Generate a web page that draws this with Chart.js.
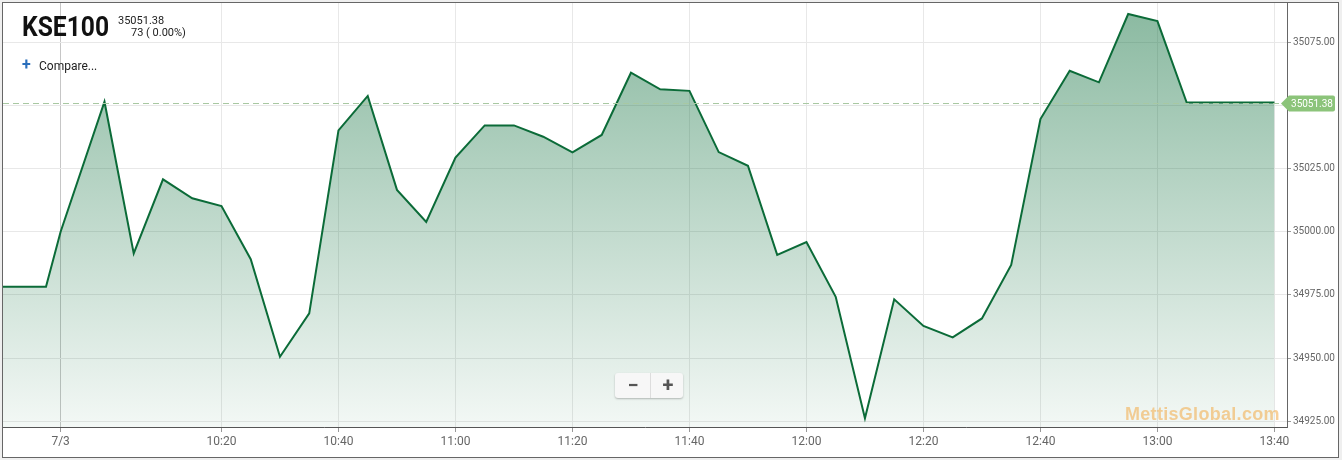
<!DOCTYPE html>
<html><head><meta charset="utf-8">
<script src="https://cdn.jsdelivr.net/npm/chart.js@4/dist/chart.umd.min.js"></script>
<style>
html,body{margin:0;padding:0;background:#efefef;}
#wrap{position:relative;width:1342px;height:460px;overflow:hidden;}
#c{position:absolute;left:0;top:0;}
.t{position:absolute;font-family:Roboto,sans-serif;white-space:nowrap;}
#title{left:22px;top:13px;font-size:28px;line-height:28px;font-weight:bold;color:#111;transform:scaleX(0.88);transform-origin:0 0;}
#price{left:118px;top:15px;font-size:11px;line-height:11px;color:#222;}
#chg{left:131px;top:27px;font-size:11px;line-height:11px;color:#222;}
#plus{left:22px;top:57px;font-size:16px;line-height:16px;font-weight:bold;color:#2a6ebb;}
#cmp{left:39px;top:60px;font-size:12px;line-height:12px;color:#222;}
#zoom{position:absolute;left:615px;top:373px;width:68px;height:25px;background:#f7f7f7;border-radius:3px;box-shadow:0 1px 2px rgba(0,0,0,0.25);}
#zoom span{position:absolute;top:0;width:34px;height:25px;line-height:24px;text-align:center;font-family:Roboto,sans-serif;font-weight:bold;font-size:20px;color:#555;}
#zm{left:1px;}#zp{left:35px;border-left:1px solid #ddd;}
#wm{left:1125px;top:405px;font-family:'Liberation Sans',Arial,sans-serif;font-size:18px;line-height:18px;font-weight:bold;letter-spacing:0.3px;color:rgba(242,170,70,0.55);}
</style></head>
<body>
<div id="wrap">
<canvas id="c" width="1342" height="460"></canvas>
<div class="t" id="title">KSE100</div>
<div class="t" id="price">35051.38</div>
<div class="t" id="chg">73 ( 0.00%)</div>
<div class="t" id="plus">+</div>
<div class="t" id="cmp">Compare...</div>
<div id="zoom"><span id="zm">−</span><span id="zp">+</span></div>
<div class="t" id="wm">MettisGlobal.com</div>
</div>
<script>
// 5-minute ordinal slots counted from 10:00
const timeSlots = [-3.5,-2,-1.5,0,1,2,3,4,5,6,7,8,9,10,11,12,13,14,15,16,17,18,19,20,21,22,23,24,25,26,27,28,29,30,31,32,33,34,35,36,37,38,39,40];
const indexValues = [34978.3,34978.3,35000.1,35051.7,34991.5,35020.9,35013.4,35010.3,34989.2,34950.5,34967.7,35040.3,35054.0,35016.7,35004.0,35029.5,35042.3,35042.3,35037.8,35031.6,35038.5,35063.2,35056.6,35056.0,35031.7,35026.3,34990.9,34996.0,34974.3,34926.1,34973.3,34962.7,34958.2,34965.7,34986.9,35044.8,35064.0,35059.4,35086.5,35083.7,35051.38,35051.38,35051.38,35051.38];
const xTickSlots = [-1.5,4,8,12,16,20,24,28,32,36,40];
const xTickLabels = ['7/3','10:20','10:40','11:00','11:20','11:40','12:00','12:20','12:40','13:00','13:40'];
const yTickValues = [34925,34950,34975,35000,35025,35050,35075];
const lastPrice = 35051.38;
const xMin = -3.47, xMax = 40.43;
const yMin = 34922.62, yMax = 35090.87;

const framePlugin = {
  id:'frame',
  beforeDraw(chart){
    const ctx = chart.ctx;
    ctx.save();
    ctx.fillStyle = '#fff';
    ctx.fillRect(2,2,1337,455);
    ctx.strokeStyle = '#666';
    ctx.lineWidth = 1;
    ctx.strokeRect(2.5,2.5,1336,455);
    ctx.restore();
  },
  afterDraw(chart){
    const ctx = chart.ctx, ca = chart.chartArea;
    const y = Math.round(chart.scales.y.getPixelForValue(lastPrice)) + 0.5;
    ctx.save();
    ctx.strokeStyle = '#a8c8a2';
    ctx.setLineDash([6,4]);
    ctx.lineWidth = 1;
    ctx.beginPath(); ctx.moveTo(ca.left, y); ctx.lineTo(ca.right, y); ctx.stroke();
    ctx.setLineDash([]);
    const x0 = ca.right - 6, top = y - 8, bot = y + 8, r = 2, xr = 1335;
    ctx.fillStyle = '#8cc47a';
    ctx.beginPath();
    ctx.moveTo(x0, y);
    ctx.lineTo(x0 + 8, top);
    ctx.lineTo(xr - r, top);
    ctx.quadraticCurveTo(xr, top, xr, top + r);
    ctx.lineTo(xr, bot - r);
    ctx.quadraticCurveTo(xr, bot, xr - r, bot);
    ctx.lineTo(x0 + 8, bot);
    ctx.closePath();
    ctx.fill();
    ctx.fillStyle = '#fff';
    ctx.font = '10px Roboto';
    ctx.textAlign = 'center';
    ctx.textBaseline = 'middle';
    ctx.fillText(lastPrice.toFixed(2), 1312, y + 0.5);
    ctx.restore();
  }
};

function noPad(s){ s.paddingTop = 0; s.paddingBottom = 0; s.paddingLeft = 0; s.paddingRight = 0; }

new Chart(document.getElementById('c'), {
  type:'line',
  data:{ datasets:[{
    data: timeSlots.map((s,i)=>({x:s, y:indexValues[i]})),
    borderColor:'#0b6b38',
    borderWidth:2,
    pointRadius:0,
    tension:0,
    fill:'start',
    backgroundColor:(c)=>{
      const ca = c.chart.chartArea;
      if(!ca) return 'rgba(20,120,70,0.3)';
      const g = c.chart.ctx.createLinearGradient(0, ca.top, 0, ca.bottom);
      g.addColorStop(0,'rgba(20,115,65,0.50)');
      g.addColorStop(1,'rgba(20,115,65,0.05)');
      return g;
    }
  }]},
  options:{
    responsive:false, animation:false,
    layout:{padding:{left:3,top:3,right:0,bottom:3}},
    plugins:{legend:{display:false}, tooltip:{enabled:false}},
    scales:{
      x:{ type:'linear', min:xMin, max:xMax,
        afterBuildTicks:s=>{ s.ticks = xTickSlots.map(v=>({value:v})); },
        afterFit:s=>{ s.height = 30; noPad(s); },
        ticks:{ autoSkip:false, maxRotation:0, color:'#666', font:{family:'Roboto', size:12}, padding:3,
          callback:(v,i)=>xTickLabels[i] },
        grid:{ color:(c)=> (c.tick && c.tick.value===-1.5) ? '#c6c6c6' : '#e8e8e8', tickColor:'#999', tickLength:5 },
        border:{ color:'#555' }
      },
      y:{ position:'right', min:yMin, max:yMax,
        afterBuildTicks:s=>{ s.ticks = yTickValues.map(v=>({value:v})); },
        afterFit:s=>{ s.width = 55; noPad(s); },
        ticks:{ color:'#666', font:{family:'Roboto', size:10}, padding:2, callback:v=>Number(v).toFixed(2) },
        grid:{ color:'#e8e8e8', tickColor:'#999', tickLength:4 },
        border:{ color:'#666' }
      }
    }
  },
  plugins:[framePlugin]
});
</script>
</body></html>
